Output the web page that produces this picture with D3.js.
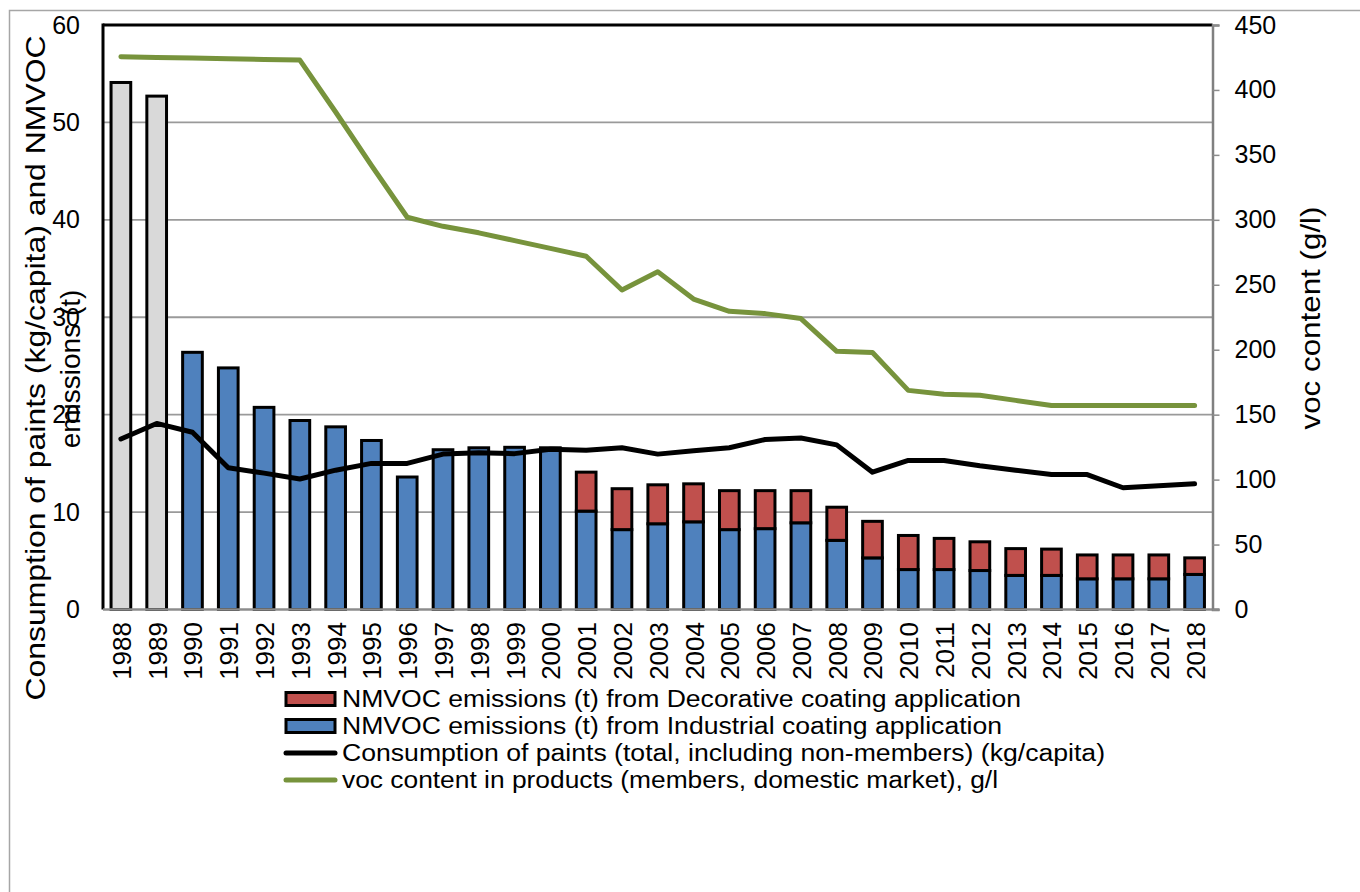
<!DOCTYPE html>
<html>
<head>
<meta charset="utf-8">
<script src="https://cdn.jsdelivr.net/npm/d3@7"></script>
<style>
  html, body { margin: 0; padding: 0; background: #fff; }
  svg { display: block; font-family: "Liberation Sans", Arial, sans-serif; }
</style>
</head>
<body>
<svg id="chart" width="1360" height="892"></svg>
<script>
// ---------- data ----------
const years = ["1988","1989","1990","1991","1992","1993","1994","1995","1996","1997","1998","1999","2000",
  "2001","2002","2003","2004","2005","2006","2007","2008","2009","2010","2011","2012","2013","2014","2015","2016","2017","2018"];

// total NMVOC emissions (grey bars, early years only)
const totalEarly = [54.1, 52.7, null, null, null, null, null, null, null, null, null, null, null,
  null, null, null, null, null, null, null, null, null, null, null, null, null, null, null, null, null, null];

// NMVOC emissions (t) from Industrial coating application
const industrial = [null, null, 26.4, 24.8, 20.75, 19.4, 18.75, 17.35, 13.6, 16.4, 16.6, 16.65, 16.6,
  10.1, 8.2, 8.8, 9.0, 8.2, 8.3, 8.9, 7.1, 5.3, 4.1, 4.1, 4.0, 3.5, 3.5, 3.15, 3.15, 3.15, 3.6];

// NMVOC emissions (t) from Decorative coating application
const decorative = [null, null, null, null, null, null, null, null, null, null, null, null, null,
  4.0, 4.2, 4.0, 3.9, 4.0, 3.9, 3.3, 3.4, 3.75, 3.5, 3.2, 2.95, 2.75, 2.7, 2.45, 2.45, 2.45, 1.7];

// Consumption of paints (kg/capita)
const consumption = [17.5, 19.1, 18.2, 14.55, 14.0, 13.4, 14.3, 15.0, 15.0, 15.95, 16.1, 16.0, 16.45,
  16.35, 16.6, 15.95, 16.3, 16.6, 17.45, 17.6, 16.9, 14.1, 15.3, 15.3, 14.75, 14.3, 13.85, 13.85, 12.5, 12.7, 12.9];

// voc content in products (g/l)
const vocContent = [425.5, 425, 424.5, 424, 423.5, 423, 383, 342, 302, 295, 290, 284, 278,
  272, 246, 260, 239, 229.6, 227.8, 224, 198.8, 197.8, 168.7, 165.7, 164.9, 161, 157, 157, 157, 157, 157];

const leftTicks = [0, 10, 20, 30, 40, 50, 60];
const rightTicks = [0, 50, 100, 150, 200, 250, 300, 350, 400, 450];

const leftTitle1 = "Consumption of paints (kg/capita) and NMVOC";
const leftTitle2 = "emissions (t)";
const rightTitle = "voc content (g/l)";

const legendItems = [
  { label: "NMVOC emissions (t) from Decorative coating application", type: "rect", color: "#c0504d", w: 679 },
  { label: "NMVOC emissions (t) from Industrial coating application", type: "rect", color: "#4f81bd", w: 660 },
  { label: "Consumption of paints (total, including non-members) (kg/capita)", type: "line", color: "#000000", w: 763 },
  { label: "voc content in products (members, domestic market), g/l", type: "line", color: "#77933c", w: 656 }
];

// ---------- layout ----------
const svg = d3.select("#chart");
const plot = { left: 103, right: 1212.5, top: 25, bottom: 609.5 };

svg.append("rect").attr("width", 1360).attr("height", 892).attr("fill", "#fff");
// outer chart frame
svg.append("path")
  .attr("d", `M9.5,900 L9.5,10.5 L1370,10.5`)
  .attr("fill", "none").attr("stroke", "#a6a6a6").attr("stroke-width", 1.5);

const x = d3.scaleBand().domain(years).range([plot.left, plot.right]).paddingInner(0).paddingOuter(0);
const yL = d3.scaleLinear().domain([0, 60]).range([plot.bottom, plot.top]);
const yR = d3.scaleLinear().domain([0, 450]).range([plot.bottom, plot.top]);

// gridlines
svg.append("g").selectAll("line").data(leftTicks.filter(d => d > 0 && d < 60)).join("line")
  .attr("x1", plot.left).attr("x2", plot.right)
  .attr("y1", d => yL(d)).attr("y2", d => yL(d))
  .attr("stroke", "#9a9a9a").attr("stroke-width", 1.8);

// bars
const barW = x.bandwidth() * 0.55;
const bx = d => x(d) + (x.bandwidth() - barW) / 2;
const barG = svg.append("g").attr("stroke", "#000").attr("stroke-width", 3);

barG.selectAll("rect.tot").data(years.map((y, i) => ({ y, v: totalEarly[i] })).filter(d => d.v != null))
  .join("rect").attr("class", "tot")
  .attr("x", d => bx(d.y)).attr("width", barW)
  .attr("y", d => yL(d.v)).attr("height", d => yL(0) - yL(d.v))
  .attr("fill", "#d9d9d9");

barG.selectAll("rect.ind").data(years.map((y, i) => ({ y, v: industrial[i] })).filter(d => d.v != null))
  .join("rect").attr("class", "ind")
  .attr("x", d => bx(d.y)).attr("width", barW)
  .attr("y", d => yL(d.v)).attr("height", d => yL(0) - yL(d.v))
  .attr("fill", "#4f81bd");

barG.selectAll("rect.dec").data(years.map((y, i) => ({ y, base: industrial[i] || 0, v: decorative[i] })).filter(d => d.v != null))
  .join("rect").attr("class", "dec")
  .attr("x", d => bx(d.y)).attr("width", barW)
  .attr("y", d => yL(d.base + d.v)).attr("height", d => yL(d.base) - yL(d.base + d.v))
  .attr("fill", "#c0504d");

// plot frame: black top & left
svg.append("line").attr("x1", plot.left).attr("x2", plot.right).attr("y1", plot.top).attr("y2", plot.top)
  .attr("stroke", "#000").attr("stroke-width", 3);
svg.append("line").attr("x1", plot.left).attr("x2", plot.left).attr("y1", plot.top - 1.5).attr("y2", plot.bottom)
  .attr("stroke", "#000").attr("stroke-width", 3);

// bottom axis line
svg.append("line").attr("x1", plot.left).attr("x2", plot.right + 7).attr("y1", plot.bottom).attr("y2", plot.bottom)
  .attr("stroke", "#8c8c8c").attr("stroke-width", 2.5);

// right axis
const rAxis = svg.append("g").attr("transform", `translate(${plot.right},0)`)
  .call(d3.axisRight(yR).tickValues(rightTicks).tickSize(7).tickPadding(15));
rAxis.select(".domain").attr("stroke", "#808080").attr("stroke-width", 2.5);
rAxis.selectAll(".tick line").attr("stroke", "#8c8c8c").attr("stroke-width", 1.5);
rAxis.selectAll(".tick text").attr("font-size", 25).attr("fill", "#000")
  .attr("font-family", "Liberation Sans, Arial, sans-serif");

// left axis labels
const lAxis = svg.append("g").attr("transform", `translate(${plot.left},0)`)
  .call(d3.axisLeft(yL).tickValues(leftTicks).tickSize(0).tickPadding(23));
lAxis.select(".domain").remove();
lAxis.selectAll(".tick text").attr("font-size", 25).attr("fill", "#000")
  .attr("font-family", "Liberation Sans, Arial, sans-serif");

// x labels (rotated)
svg.append("g").selectAll("text").data(years).join("text")
  .attr("transform", d => `translate(${x(d) + x.bandwidth() / 2 + 1},622) rotate(-90)`)
  .attr("text-anchor", "end").attr("dominant-baseline", "central")
  .attr("font-size", 26).attr("fill", "#000").text(d => d);

// consumption line
const cx = d => x(d) + x.bandwidth() / 2;
svg.append("path")
  .datum(years.map((y, i) => [cx(y), yL(consumption[i])]))
  .attr("d", d3.line())
  .attr("fill", "none").attr("stroke", "#000").attr("stroke-width", 5)
  .attr("stroke-linecap", "round").attr("stroke-linejoin", "round");

// voc content line
svg.append("path")
  .datum(years.map((y, i) => [cx(y), yR(vocContent[i])]))
  .attr("d", d3.line())
  .attr("fill", "none").attr("stroke", "#77933c").attr("stroke-width", 5)
  .attr("stroke-linecap", "round").attr("stroke-linejoin", "round");

// axis titles
svg.append("text")
  .attr("transform", "translate(45,368) rotate(-90)")
  .attr("text-anchor", "middle").attr("font-size", 28).attr("fill", "#000")
  .attr("textLength", 665).attr("lengthAdjust", "spacingAndGlyphs")
  .text(leftTitle1);
svg.append("text")
  .attr("transform", "translate(80,369) rotate(-90)")
  .attr("text-anchor", "middle").attr("font-size", 28).attr("fill", "#000")
  .text(leftTitle2);
svg.append("text")
  .attr("transform", "translate(1320,318) rotate(-90)")
  .attr("text-anchor", "middle").attr("font-size", 28).attr("fill", "#000")
  .attr("textLength", 223).attr("lengthAdjust", "spacingAndGlyphs")
  .text(rightTitle);

// legend
const lg = svg.append("g");
legendItems.forEach((it, i) => {
  const cy = 699 + i * 27;
  if (it.type === "rect") {
    lg.append("rect").attr("x", 286).attr("y", cy - 6.5).attr("width", 49).attr("height", 13)
      .attr("fill", it.color).attr("stroke", "#000").attr("stroke-width", 3);
  } else {
    lg.append("line").attr("x1", 286).attr("x2", 335).attr("y1", cy).attr("y2", cy)
      .attr("stroke", it.color).attr("stroke-width", 5).attr("stroke-linecap", "round");
  }
  lg.append("text").attr("x", 342).attr("y", cy + 8)
    .attr("font-size", 23).attr("fill", "#000")
    .attr("textLength", it.w).attr("lengthAdjust", "spacingAndGlyphs")
    .text(it.label);
});
</script>
</body>
</html>
